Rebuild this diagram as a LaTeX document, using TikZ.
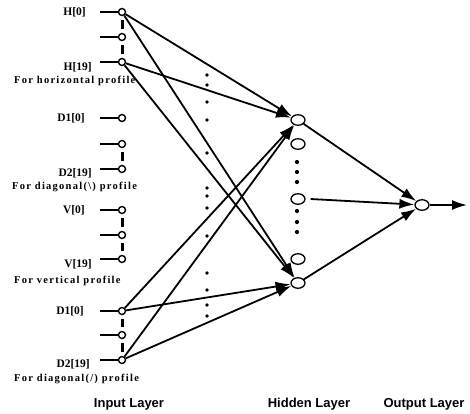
\documentclass[tikz,border=0pt]{standalone}
\usepackage{fontspec}
\setmainfont{Liberation Serif}
\newfontfamily\notefont[LetterSpace=12]{Liberation Serif}
\newfontfamily\layerfont{Liberation Sans}
\usetikzlibrary{arrows.meta,shapes.geometric,calc}
\tikzset{
  inp/.style={circle,draw,line width=1.4pt,inner sep=0pt,minimum size=7pt,fill=white},
  hid/.style={ellipse,draw,line width=1.3pt,inner sep=0pt,minimum width=14pt,minimum height=10.5pt,fill=white},
  stub/.style={line width=1.6pt},
  gapdash/.style={line width=3pt},
  conn/.style={line width=1.8pt,-{Latex[length=15pt,width=10pt]}},
  lbl/.style={font=\fontsize{11.5}{12}\selectfont\bfseries,inner sep=0pt},
  note/.style={font=\notefont\fontsize{10.5}{11}\selectfont\bfseries,inner sep=0pt,anchor=west},
  layer/.style={font=\layerfont\fontsize{13}{14}\selectfont\bfseries,inner sep=0pt},
  blob/.style={circle,fill=black,inner sep=0pt,minimum size=4.2pt},
}
\begin{document}
\begin{tikzpicture}[x=1pt,y=-1pt]
\useasboundingbox (0,0) rectangle (470,413);

% input units
\foreach \n/\y in {a/12,b/37,c/62,d/118,e/144,f/169,g/210,h/235,i/259,j/311,k/335,l/360}{
  \coordinate (s\n) at (100,\y);
  \node[inp] (i\n) at (122,\y) {};
  \draw[stub] (s\n) -- (i\n);
}

% gaps between input units
\foreach \a/\b in {a/b,b/c,e/f,g/h,h/i,j/k,k/l}{
  \draw[gapdash] ($(i\a)!0.33!(i\b)$) -- ($(i\a)!0.67!(i\b)$);
}

% input labels
\node[lbl,anchor=east] at (86,12) {H[0]};
\node[lbl,anchor=east] at (92,67) {H[19]};
\node[note] at (14,81) {For horizontal profile};
\node[lbl,anchor=east] at (85,118) {D1[0]};
\node[lbl,anchor=east] at (92,173) {D2[19]};
\node[note] at (12,187) {For diagonal(\textbackslash) profile};
\node[lbl,anchor=east] at (85,210) {V[0]};
\node[lbl,anchor=east] at (92,264) {V[19]};
\node[note] at (14,281) {For vertical profile};
\node[lbl,anchor=east] at (84,311) {D1[0]};
\node[lbl,anchor=east] at (90,364) {D2[19]};
\node[note] at (14,379) {For diagonal(/) profile};

% dotted column between the layers
\foreach \y in {75,85,102,120,153,188,196,208,236,273,290,305,316}{
  \node[blob,minimum size=3.6pt] at (207,\y) {};
}

% hidden units
\node[hid] (h1) at (298,120) {};
\node[hid] (h2) at (298,144) {};
\node[hid] (h3) at (298,199) {};
\node[hid] (h4) at (298,259) {};
\node[hid] (h5) at (298,283) {};
\foreach \y in {162,172,182,211,222,232}{
  \node[blob] at (297,\y) {};
}

% output unit
\node[hid] (o) at (422,205) {};
\coordinate (out) at (467,205);
\coordinate (m3) at ($(h3.east)+(5,0)$);

% input to hidden connections
\foreach \n in {a,c,j,l}{
  \draw[conn] (i\n) -- (h1);
  \draw[conn] (i\n) -- (h5);
}

% hidden to output connections
\draw[conn] (h1) -- (o);
\draw[conn] (m3) -- (o);
\draw[conn] (h5) -- (o);
\draw[conn] (o) -- (out);

% layer titles
\node[layer] at (129,404) {Input Layer};
\node[layer] at (309,404) {Hidden Layer};
\node[layer] at (424,404) {Output Layer};
\end{tikzpicture}
\end{document}
